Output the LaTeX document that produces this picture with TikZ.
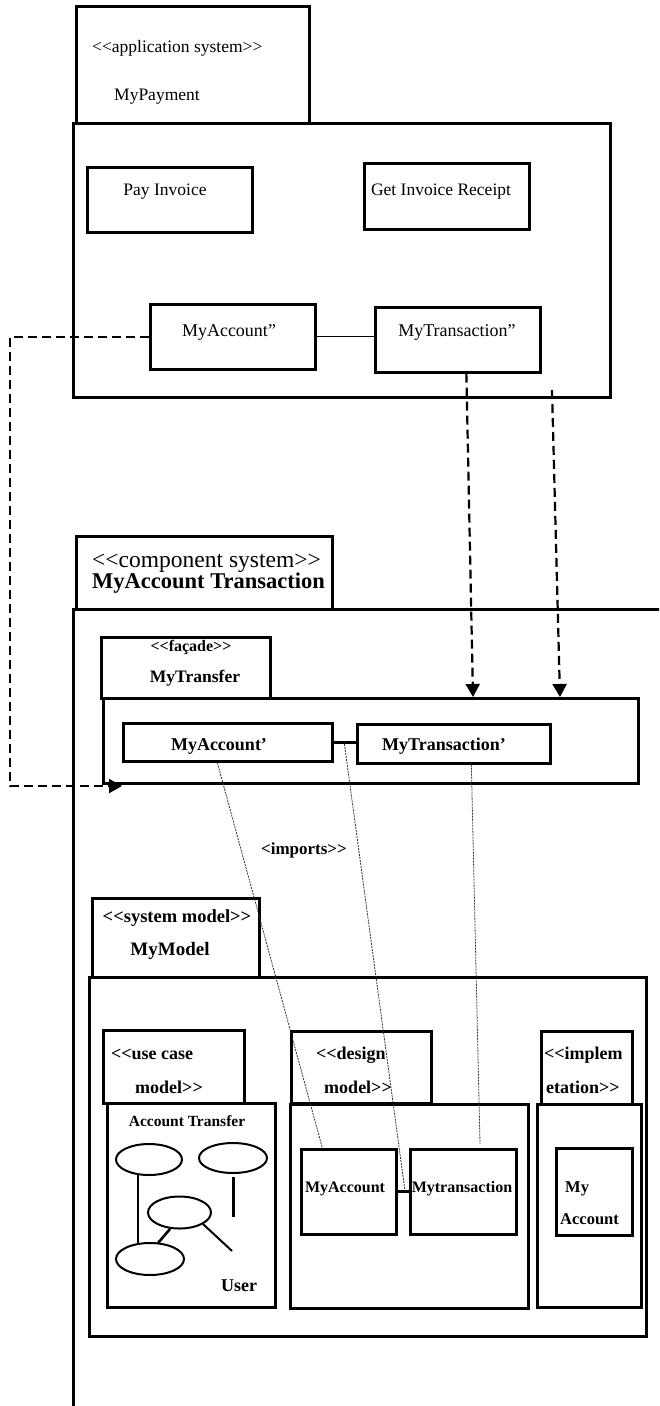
\documentclass[tikz,border=0pt]{standalone}
\usepackage{fontspec}
\setmainfont{Liberation Serif}
\usetikzlibrary{arrows.meta}
\tikzset{
 box/.style={draw, line width=2.7pt, inner sep=0pt, anchor=north west},
 rg/.style={inner sep=0pt, font=\fontsize{#1}{#1}\selectfont},
 bd/.style={inner sep=0pt, font=\fontsize{#1}{#1}\selectfont\bfseries},
 dsh/.style={line width=2.2pt, dash pattern=on 9pt off 5pt},
 tip/.style={-{Triangle[length=13pt,width=14pt]}},
 imp/.style={line width=0.8pt, black!80, dash pattern=on 2pt off 1pt},
 uc/.style={line width=2pt},
}
\newcommand\bx[5]{\node[box, minimum width={#4-#2}, minimum height={#5-#3}] (#1) at (#2,#3) {};}
\begin{document}
\begin{tikzpicture}[x=1pt,y=-1pt]
\useasboundingbox (0,0) rectangle (659,1406);
\clip (0,0) rectangle (659,1406);
% boxes
\bx{tab1}{75}{5}{308}{122}
\bx{out1}{72}{122}{609}{396}
\bx{pay}{86}{166}{251}{231}
\bx{get}{363}{162}{528}{228}
\bx{accB}{149}{303}{314}{368}
\bx{traB}{374}{306}{539}{371}
\bx{tab2}{75}{535}{331}{608}
\bx{out2}{72}{608}{700}{1450}
\bx{ftab}{100}{636}{269}{697}
\bx{fbox}{102}{697}{637}{782}
\bx{accA}{122}{722}{331}{760}
\bx{traA}{356}{723}{549}{762}
\bx{stab}{91}{897}{258}{976}
\bx{mbox}{88}{976}{645}{1335}
\bx{utab}{102}{1029}{243}{1102}
\bx{ubox}{106}{1102}{274}{1306}
\bx{dtab}{290}{1030}{430}{1102}
\bx{dbox}{289}{1103}{527}{1307}
\bx{dacc}{300}{1148}{395}{1233}
\bx{dtra}{409}{1148}{515}{1233}
\bx{itab}{540}{1030}{631}{1103}
\bx{ibox}{536}{1103}{640}{1306}
\bx{iacc}{555}{1147}{631}{1234}
% texts
\node[rg=17.5, anchor=mid west] (l1) at (92,50) {<{}<application system>{}>};
\node[rg=17.5, anchor=mid west] (l2) at (114,98) {MyPayment};
\node[rg=17.5, anchor=mid] (l3) at (165,193) {Pay Invoice};
\node[rg=17.5, anchor=mid] (l4) at (441,193) {Get Invoice Receipt};
\node[rg=18, anchor=mid] (l5) at (229,334) {MyAccount”};
\node[rg=18, anchor=mid] (l6) at (457,334) {MyTransaction”};
\node[rg=23.5, anchor=mid west] (l7) at (92,565) {<{}<component system>{}>};
\node[bd=22.5, anchor=mid west] (l8) at (92,586) {MyAccount Transaction};
\node[bd=16, anchor=mid] (l9) at (191,649) {<{}<façade>{}>};
\node[bd=17.5, anchor=mid] (l10) at (195,680) {MyTransfer};
\node[bd=18, anchor=mid] (l11) at (219,748) {MyAccount’};
\node[bd=18, anchor=mid] (l12) at (444,748) {MyTransaction’};
\node[bd=17, anchor=mid] (l13) at (304,852) {<imports>{}>};
\node[bd=18.5, anchor=mid] (l14) at (177,920) {<{}<system model>{}>};
\node[bd=19, anchor=mid] (l15) at (170,953) {MyModel};
\node[bd=18, anchor=mid west] (l16) at (111,1057) {<{}<use case};
\node[bd=18, anchor=mid] (l17) at (169,1091) {model>{}>};
\node[bd=15.5, anchor=mid] (l18) at (187,1124) {Account Transfer};
\node[bd=18, anchor=mid] (l19) at (239,1289) {User};
\node[bd=18, anchor=mid west] (l20) at (316,1057) {<{}<design};
\node[bd=18, anchor=mid] (l21) at (358,1091) {model>{}>};
\node[bd=16, anchor=mid] (l22) at (345,1190) {MyAccount};
\node[bd=16, anchor=mid] (l23) at (462,1190) {Mytransaction};
\node[bd=18, anchor=mid west] (l24) at (544,1057) {<{}<implem};
\node[bd=18, anchor=mid west] (l25) at (546,1091) {etation>{}>};
\node[bd=16.5, anchor=mid west] (l26) at (565,1190) {My};
\node[bd=16.5, anchor=mid west] (l27) at (560,1222) {Account};
% connectors
\draw[line width=1pt] (accB.east) -- (accB.east -| traB.west);
\coordinate (lb) at (10,786);
\coordinate (la) at (122,786);
\draw[dsh, tip] (accB.west) -| (lb) -- (la);
\coordinate (e1) at (473,697);
\draw[dsh, tip] ([xshift=8.5pt]traB.south) -- (e1);
\coordinate (s2) at (552,390);
\coordinate (e2) at (560,697);
\draw[dsh, tip] (s2) -- (e2);
\draw[line width=3pt] (accA.east) -- (accA.east -| traA.west);
\draw[line width=3pt] (dacc.east) -- (dacc.east -| dtra.west);
\coordinate (m1) at (344,741);
\coordinate (m2) at (405,1191);
\coordinate (m3) at (480,1144);
\draw[imp] ([xshift=-10.5pt]accA.south) -- ([xshift=-26.5pt]dacc.north);
\draw[imp] (m1) -- (m2);
\draw[imp] ([xshift=17.5pt]traA.south) -- (m3);
% use case sketch
\draw[uc] (149,1159.5) ellipse [x radius=33pt, y radius=15.5pt];
\draw[uc] (233,1158) ellipse [x radius=34pt, y radius=15pt];
\draw[uc] (179.5,1212.5) ellipse [x radius=31.5pt, y radius=16pt];
\draw[uc] (150,1259) ellipse [x radius=34pt, y radius=16pt];
\draw[line width=1.3pt] (138,1175) -- (138,1243);
\draw[line width=3pt] (233,1177) -- (233,1217);
\draw[line width=2.6pt] (170,1229) -- (158,1243);
\draw[line width=2pt] (203,1224) -- (232,1251);
\end{tikzpicture}
\end{document}
